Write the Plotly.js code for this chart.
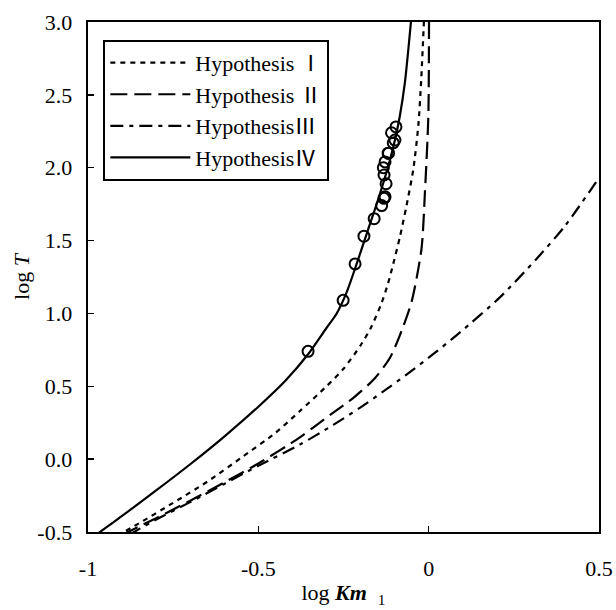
<!DOCTYPE html>
<html>
<head>
<meta charset="utf-8">
<script src="https://cdn.plot.ly/plotly-3.0.1.min.js"></script>
<style>body{margin:0;padding:0;background:#fff}#chart{width:616px;height:610px}</style>
</head>
<body>
<div id="chart"></div>
<script>
// Hypothesis I (short dash)
const hyp1X = [-0.94, -0.85, -0.75, -0.65, -0.55, -0.45, -0.378, -0.3, -0.25, -0.2, -0.17, -0.14, -0.12, -0.104, -0.084, -0.065, -0.045, -0.03, -0.022, -0.014];
const hyp1Y = [-0.56, -0.44, -0.30, -0.155, 0.01, 0.18, 0.33, 0.5, 0.62, 0.78, 0.9, 1.06, 1.2, 1.34, 1.53, 1.74, 1.99, 2.3, 2.6, 3.0];
// Hypothesis II (long dash)
const hyp2X = [-0.9, -0.8, -0.7, -0.6, -0.5, -0.378, -0.339, -0.28, -0.221, -0.16, -0.114, -0.084, -0.05, -0.021, -0.011, -0.001, 0.001];
const hyp2Y = [-0.52, -0.405, -0.285, -0.16, -0.03, 0.149, 0.217, 0.319, 0.421, 0.55, 0.694, 0.853, 1.081, 1.445, 1.83, 2.35, 3.0];
// Hypothesis III (dash-dot)
const hyp3X = [-0.88, -0.8, -0.7, -0.6, -0.5, -0.378, -0.28, -0.2, -0.133, -0.065, 0.013, 0.092, 0.209, 0.315, 0.4, 0.5];
const hyp3Y = [-0.52, -0.415, -0.295, -0.17, -0.045, 0.1, 0.235, 0.355, 0.465, 0.58, 0.72, 0.87, 1.11, 1.37, 1.6, 1.93];
// Hypothesis IV (solid)
const hyp4X = [-0.98, -0.965, -0.9, -0.8, -0.7, -0.6, -0.5, -0.42, -0.354, -0.3, -0.27, -0.24, -0.21, -0.18, -0.15, -0.12, -0.1, -0.085, -0.07, -0.052];
const hyp4Y = [-0.53, -0.5, -0.39, -0.215, -0.035, 0.155, 0.36, 0.54, 0.72, 0.9, 1.0, 1.15, 1.35, 1.56, 1.77, 2.0, 2.18, 2.35, 2.58, 3.0];
// Measured points (open circles)
const obsX = [-0.354, -0.251, -0.216, -0.19, -0.16, -0.138, -0.131, -0.128, -0.125, -0.131, -0.133, -0.128, -0.119, -0.118, -0.104, -0.099, -0.109, -0.096];
const obsY = [0.74, 1.09, 1.34, 1.53, 1.65, 1.74, 1.79, 1.80, 1.89, 1.95, 2.0, 2.04, 2.10, 2.10, 2.17, 2.19, 2.24, 2.28];

const cjk = 'font-family:\'Noto Sans CJK JP\'';
const legendNames = [
  'Hypothesis <span style="' + cjk + '">Ⅰ</span>',
  'Hypothesis <span style="' + cjk + '">Ⅱ</span>',
  'Hypothesis<span style="' + cjk + '">Ⅲ</span>',
  'Hypothesis<span style="' + cjk + '">Ⅳ</span>'
];
const xTicks = [-1, -0.5, 0, 0.5];
const xTickText = ['-1', '-0.5', '0', '0.5'];
const yTicks = [-0.5, 0, 0.5, 1, 1.5, 2, 2.5, 3];
const yTickText = ['-0.5', '0.0', '0.5', '1.0', '1.5', '2.0', '2.5', '3.0'];

const serif = '"Liberation Serif", "Times New Roman", "Noto Sans CJK JP", serif';
const lineW = 2.2;
const sp = {shape: 'spline', smoothing: 0.7};

const traces = [
  {x: hyp1X, y: hyp1Y, mode: 'lines', name: legendNames[0], line: Object.assign({color: '#000', width: lineW, dash: '5px,5px'}, sp)},
  {x: hyp2X, y: hyp2Y, mode: 'lines', name: legendNames[1], line: Object.assign({color: '#000', width: lineW, dash: '17px,7px'}, sp)},
  {x: hyp3X, y: hyp3Y, mode: 'lines', name: legendNames[2], line: Object.assign({color: '#000', width: lineW, dash: '13px,6px,4px,6px'}, sp)},
  {x: hyp4X, y: hyp4Y, mode: 'lines', name: legendNames[3], line: Object.assign({color: '#000', width: lineW}, sp)},
  {x: obsX, y: obsY, mode: 'markers', showlegend: false, marker: {symbol: 'circle-open', size: 11, color: '#000', line: {width: 2, color: '#000'}}}
];

const layout = {
  width: 616, height: 610,
  margin: {l: 88, r: 17, t: 22, b: 78},
  paper_bgcolor: '#fff', plot_bgcolor: '#fff',
  font: {family: serif, size: 22, color: '#000'},
  showlegend: true,
  legend: {
    x: 0.03, y: 0.965, xanchor: 'left', yanchor: 'top',
    bordercolor: '#000', borderwidth: 2, bgcolor: '#fff',
    font: {family: serif, size: 22, color: '#000'},
    itemwidth: 80, tracegroupgap: 0
  },
  xaxis: {
    range: [-1, 0.5], tickvals: xTicks, ticktext: xTickText,
    ticks: 'inside', ticklen: 6, tickwidth: 1.5, tickcolor: '#000',
    showline: true, linewidth: 2.4, linecolor: '#000', mirror: true,
    showgrid: false, zeroline: false, ticklabelstandoff: 15,
    tickfont: {family: serif, size: 22, color: '#000'},
    title: {text: 'log <b><i>Km</i></b>  <sub>1</sub>', font: {family: serif, size: 22, color: '#000'}, standoff: 5}
  },
  yaxis: {
    range: [-0.5, 3.0], tickvals: yTicks, ticktext: yTickText,
    ticks: 'inside', ticklen: 6, tickwidth: 1.5, tickcolor: '#000',
    showline: true, linewidth: 2.4, linecolor: '#000', mirror: true,
    showgrid: false, zeroline: false, ticklabelstandoff: 9,
    tickfont: {family: serif, size: 22, color: '#000'},
    title: {text: 'log <i>T</i>', font: {family: serif, size: 22, color: '#000'}, standoff: 2}
  }
};

Plotly.newPlot('chart', traces, layout, {displayModeBar: false, staticPlot: true});
</script>
</body>
</html>
